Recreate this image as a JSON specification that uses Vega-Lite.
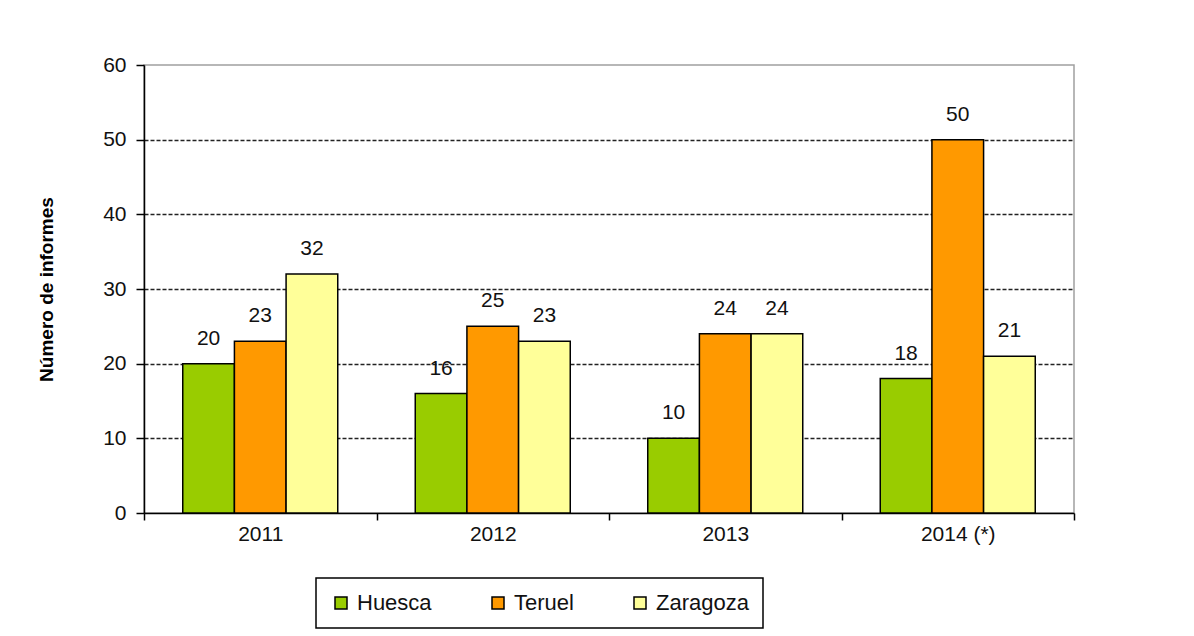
{
  "$schema": "https://vega.github.io/schema/vega-lite/v6.json",
  "autosize": {"type": "none"},
  "padding": {"left": 144, "top": 65, "right": 120, "bottom": 123},
  "width": 930,
  "height": 448,
  "background": "white",
  "data": {
    "values": [
      {"anio": "2011", "provincia": "Huesca", "informes": 20},
      {"anio": "2011", "provincia": "Teruel", "informes": 23},
      {"anio": "2011", "provincia": "Zaragoza", "informes": 32},
      {"anio": "2012", "provincia": "Huesca", "informes": 16},
      {"anio": "2012", "provincia": "Teruel", "informes": 25},
      {"anio": "2012", "provincia": "Zaragoza", "informes": 23},
      {"anio": "2013", "provincia": "Huesca", "informes": 10},
      {"anio": "2013", "provincia": "Teruel", "informes": 24},
      {"anio": "2013", "provincia": "Zaragoza", "informes": 24},
      {"anio": "2014 (*)", "provincia": "Huesca", "informes": 18},
      {"anio": "2014 (*)", "provincia": "Teruel", "informes": 50},
      {"anio": "2014 (*)", "provincia": "Zaragoza", "informes": 21}
    ]
  },
  "encoding": {
    "x": {
      "field": "anio", "type": "nominal", "sort": null,
      "scale": {"paddingInner": 0, "paddingOuter": 0},
      "axis": {
        "title": null, "labelAngle": 0, "tickBand": "extent",
        "domainColor": "black", "domainWidth": 1.5,
        "tickColor": "black", "tickWidth": 1.5, "tickSize": 7,
        "labelFont": "Liberation Sans", "labelFontSize": 21, "labelColor": "#111", "labelPadding": 3
      }
    },
    "xOffset": {
      "field": "provincia", "type": "nominal",
      "sort": ["Huesca", "Teruel", "Zaragoza"],
      "scale": {"paddingInner": 0, "paddingOuter": 0.75}
    },
    "y": {
      "field": "informes", "type": "quantitative",
      "scale": {"domain": [0, 60], "nice": false, "zero": true},
      "axis": {
        "title": "Número de informes",
        "titleFont": "Liberation Sans", "titleFontSize": 19, "titleFontWeight": "bold", "titleColor": "black",
        "titlePadding": 46,
        "values": [0, 10, 20, 30, 40, 50, 60],
        "domainColor": "black", "domainWidth": 1.5,
        "tickColor": "black", "tickWidth": 1.5, "tickSize": 8,
        "labelFont": "Liberation Sans", "labelFontSize": 21, "labelColor": "#111", "labelPadding": 10,
        "grid": true, "gridColor": "#222", "gridWidth": 1.3, "gridDash": [4, 2],
        "gridOpacity": {"condition": {"test": "datum.value == 0 || datum.value == 60", "value": 0}, "value": 1}
      }
    }
  },
  "layer": [
    {
      "mark": {"type": "bar", "stroke": "black", "strokeWidth": 1.5},
      "encoding": {
        "color": {
          "field": "provincia", "type": "nominal",
          "scale": {"domain": ["Huesca", "Teruel", "Zaragoza"], "range": ["#99CC00", "#FF9900", "#FFFF99"]},
          "legend": {
            "title": null, "orient": "none", "direction": "horizontal",
            "legendX": 172, "legendY": 513,
            "strokeColor": "black", "padding": 14, "columnPadding": 55,
            "symbolType": "square", "symbolSize": 144,
            "symbolStrokeColor": "black", "symbolStrokeWidth": 1.5, "symbolOpacity": 1,
            "labelFont": "Liberation Sans", "labelFontSize": 22, "labelColor": "#111", "labelOffset": 5
          }
        }
      }
    },
    {
      "mark": {"type": "text", "baseline": "middle", "align": "center", "dy": -25, "font": "Liberation Sans", "fontSize": 21, "color": "#111"},
      "encoding": {
        "text": {"field": "informes", "type": "quantitative"}
      }
    }
  ],
  "config": {
    "view": {"stroke": "#a0a0a0", "strokeWidth": 1.5},
    "legend": {"strokeWidth": 1.5}
  }
}
